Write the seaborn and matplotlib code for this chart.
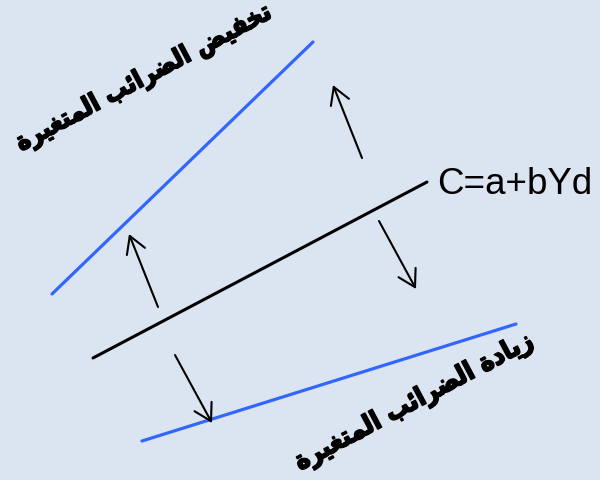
import matplotlib
matplotlib.use("Agg")
import matplotlib.pyplot as plt
import matplotlib.patheffects as pe
from matplotlib.patches import ArrowStyle
import seaborn as sns

# ---- data (schematic coordinates, y pointing up) ----
upper_x = [52, 313]
upper_y = [186, 438]
base_x = [93, 427]
base_y = [122, 298]
lower_x = [142, 516]
lower_y = [39, 156]

arrow_tail_x = [158, 362, 379, 175]
arrow_tail_y = [173, 322, 259, 125]
arrow_head_x = [129, 333, 416, 212]
arrow_head_y = [246, 395, 191, 57]

equation_label = "C=a+bYd"
label_reduce = "تخفيض الضرائب المتغيرة"
label_increase = "زيادة الضرائب المتغيرة"

# ---- minimal Arabic shaping (presentation forms, visual order) ----
FORMS = {
    'ا': ('\uFE8D', '\uFE8E', None, None),
    'ب': ('\uFE8F', '\uFE90', '\uFE91', '\uFE92'),
    'ة': ('\uFE93', '\uFE94', None, None),
    'ت': ('\uFE95', '\uFE96', '\uFE97', '\uFE98'),
    'خ': ('\uFEA5', '\uFEA6', '\uFEA7', '\uFEA8'),
    'د': ('\uFEA9', '\uFEAA', None, None),
    'ر': ('\uFEAD', '\uFEAE', None, None),
    'ز': ('\uFEAF', '\uFEB0', None, None),
    'ض': ('\uFEBD', '\uFEBE', '\uFEBF', '\uFEC0'),
    'غ': ('\uFECD', '\uFECE', '\uFECF', '\uFED0'),
    'ف': ('\uFED1', '\uFED2', '\uFED3', '\uFED4'),
    'ل': ('\uFEDD', '\uFEDE', '\uFEDF', '\uFEE0'),
    'م': ('\uFEE1', '\uFEE2', '\uFEE3', '\uFEE4'),
    'ي': ('\uFEF1', '\uFEF2', '\uFEF3', '\uFEF4'),
    'ئ': ('\uFE89', '\uFE8A', '\uFE8B', '\uFE8C'),
}


def shape(text):
    out = []
    for i, c in enumerate(text):
        if c not in FORMS:
            out.append(c)
            continue
        prev = text[i - 1] if i > 0 else ''
        nxt = text[i + 1] if i + 1 < len(text) else ''
        pj = prev in FORMS and FORMS[prev][2] is not None
        nj = FORMS[c][2] is not None and nxt in FORMS
        iso, fin, ini, med = FORMS[c]
        if pj and nj:
            out.append(med)
        elif pj:
            out.append(fin)
        elif nj:
            out.append(ini)
        else:
            out.append(iso)
    return ''.join(out)[::-1]


bg = "#dbe5f1"
blue = "#3366ff"

sns.set_theme(style="white")
fig = plt.figure(figsize=(6, 4.8), dpi=100, facecolor=bg)
ax = fig.add_axes([0, 0, 1, 1])
ax.set_facecolor(bg)

sns.lineplot(x=upper_x, y=upper_y, color=blue, lw=2.3, ax=ax)
sns.lineplot(x=base_x, y=base_y, color="black", lw=2.2, ax=ax)
sns.lineplot(x=lower_x, y=lower_y, color=blue, lw=2.3, ax=ax)

style = ArrowStyle("->", head_length=1.2, head_width=0.7)
for tx, ty, hx, hy in zip(arrow_tail_x, arrow_tail_y, arrow_head_x, arrow_head_y):
    ax.annotate("", xy=(hx, hy), xytext=(tx, ty),
                arrowprops=dict(arrowstyle=style, color="black", lw=1.5,
                                shrinkA=0, shrinkB=0, mutation_scale=10))

ax.text(base_x[1] + 10, base_y[1] - 2, equation_label, fontsize=26.5,
        family="Liberation Sans", ha="left", va="center", color="black")

bold_fx = [pe.withStroke(linewidth=1.2, foreground="black")]
ax.text(144, 402, shape(label_reduce), fontsize=18.5, fontweight="bold",
        family="DejaVu Sans", fontstretch="condensed", rotation=28,
        ha="center", va="center", rotation_mode="anchor", color="black",
        path_effects=bold_fx)
ax.text(414, 78, shape(label_increase), fontsize=19, fontweight="bold",
        family="DejaVu Sans", fontstretch="condensed", rotation=28,
        ha="center", va="center", rotation_mode="anchor", color="black",
        path_effects=bold_fx)

ax.set_xlim(0, 600)
ax.set_ylim(0, 480)
ax.axis("off")

fig.savefig("out.png", dpi=100, facecolor=bg)
